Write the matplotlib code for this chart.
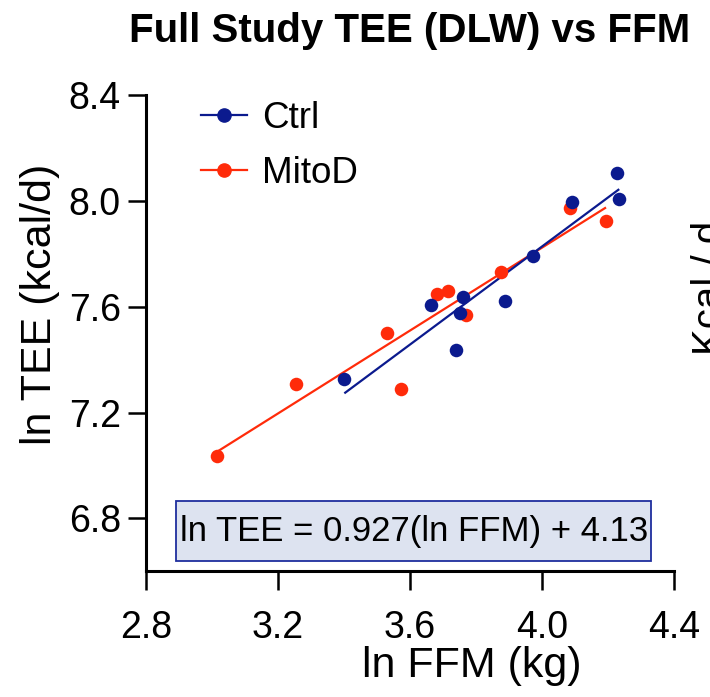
import numpy as np
import matplotlib
matplotlib.use('Agg')
import matplotlib.pyplot as plt
from matplotlib.lines import Line2D
from matplotlib.patches import Rectangle

# ---- data ----
ctrl_x = [3.401, 3.663, 3.762, 3.752, 3.738, 3.889, 3.972, 4.090, 4.228, 4.234]
ctrl_y = [7.326, 7.605, 7.638, 7.576, 7.435, 7.623, 7.790, 7.994, 8.104, 8.006]
mito_x = [3.014, 3.255, 3.529, 3.572, 3.683, 3.714, 3.769, 3.876, 4.085, 4.194]
mito_y = [7.036, 7.307, 7.502, 7.288, 7.648, 7.660, 7.570, 7.731, 7.972, 7.925]
x_ticks = [2.8, 3.2, 3.6, 4.0, 4.4]
y_ticks = [6.8, 7.2, 7.6, 8.0, 8.4]
series_names = ["Ctrl", "MitoD"]
title = "Full Study TEE (DLW) vs FFM"
x_label = "ln FFM (kg)"
y_label = "ln TEE (kcal/d)"
equation = "ln TEE = 0.927(ln FFM) + 4.13"
side_text = "Kcal / d"

BLUE = "#0B1A8E"
RED = "#FF2B0A"

plt.rcParams['font.family'] = ['Liberation Sans', 'DejaVu Sans']

W, H = 710, 697
fig = plt.figure(figsize=(W / 100, H / 100), dpi=100)

def fx(px):
    return px / W

def fy(py):
    return 1 - py / H

left, right, top, bottom = 146, 674, 95, 571.3
ax = fig.add_axes([fx(left), fy(bottom), fx(right - left), (bottom - top) / H])
ax.set_xlim(2.8, 4.4)
ax.set_ylim(6.6, 8.4)

for xs, ys, col, z in [(mito_x, mito_y, RED, 2), (ctrl_x, ctrl_y, BLUE, 3)]:
    xs = np.asarray(xs)
    ys = np.asarray(ys)
    m, b = np.polyfit(xs, ys, 1)
    xl = np.array([xs.min(), xs.max()])
    ax.plot(xl, m * xl + b, color=col, lw=1.6, zorder=z, solid_capstyle='butt')
    ax.scatter(xs, ys, s=95, color=col, zorder=z + 2, linewidths=0)

ax.set_xticks(x_ticks)
ax.set_xticklabels([f"{v:.1f}" for v in x_ticks])
ax.set_yticks(y_ticks)
ax.set_yticklabels([f"{v:.1f}" for v in y_ticks])
for s in ['top', 'right']:
    ax.spines[s].set_visible(False)
for s in ['left', 'bottom']:
    ax.spines[s].set_linewidth(2.2)
ax.tick_params(axis='both', direction='out', length=13, width=1.8,
               labelsize=27, pad=5, colors='black')
ax.tick_params(axis='x', length=14, pad=14)

# title and axis labels
fig.text(fx(410), fy(31), title, ha='center', va='center',
         fontsize=29, fontweight='bold')
fig.text(fx(472), fy(666), x_label, ha='center', va='center', fontsize=31)
fig.text(fx(40), fy(304), y_label, ha='center', va='center', fontsize=31,
         rotation=90)
fig.text(fx(691), fy(288), side_text, ha='left', va='center', fontsize=29,
         rotation=90)

# legend
handles = [Line2D([], [], color=BLUE, marker='o', markersize=9.5, lw=1.6),
           Line2D([], [], color=RED, marker='o', markersize=9.5, lw=1.6)]
leg = ax.legend(handles, series_names, loc='upper left',
                bbox_to_anchor=(fx(201), fy(101)), bbox_transform=fig.transFigure,
                frameon=False, fontsize=26.5, handlelength=1.25,
                handletextpad=0.4, labelspacing=0.55, borderpad=0,
                borderaxespad=0)

# equation box
fig.add_artist(Rectangle((fx(176), fy(561)), (651 - 176) / W, (561 - 501) / H,
                         transform=fig.transFigure, facecolor='#DDE3F0',
                         edgecolor='#1F2E9E', lw=1.3, zorder=5))
fig.text(fx(414), fy(531), equation, ha='center', va='center', fontsize=25,
         zorder=6)

fig.savefig('out.png', dpi=100)
